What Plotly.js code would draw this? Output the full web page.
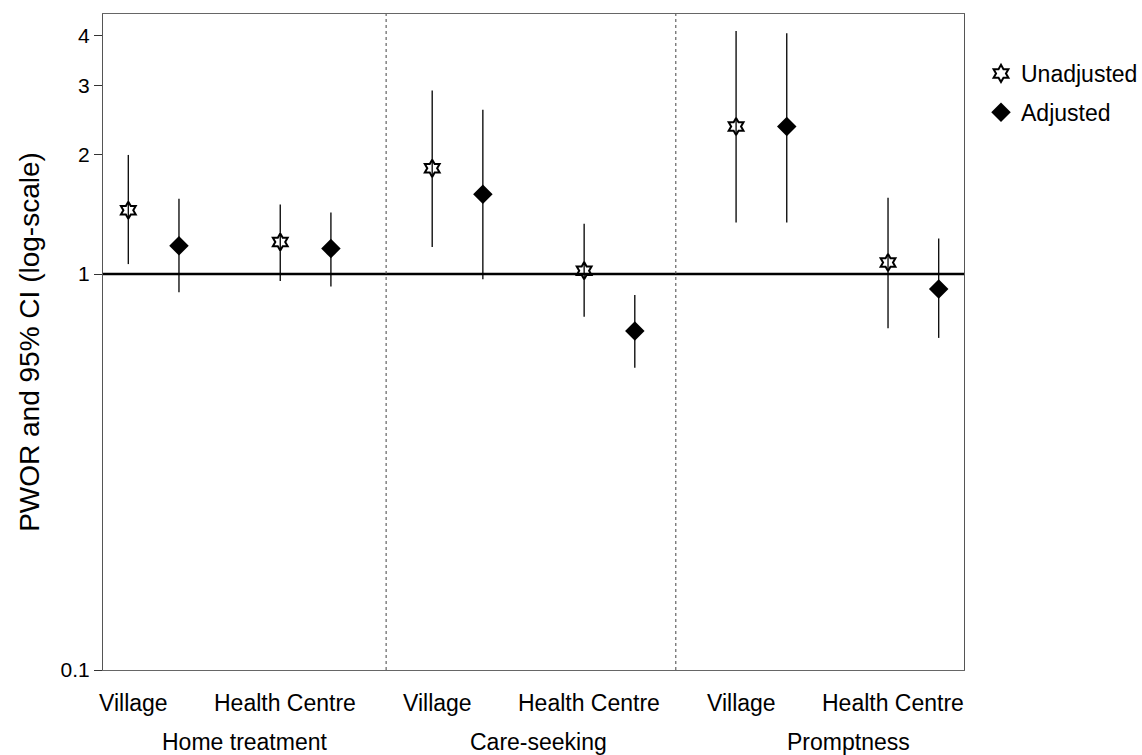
<!DOCTYPE html>
<html>
<head>
<meta charset="utf-8">
<script src="https://cdn.plot.ly/plotly-3.0.1.min.js"></script>
<style>html,body{margin:0;padding:0;background:#fff;}#chart{width:1142px;height:755px;}</style>
</head>
<body>
<div id="chart"></div>
<script>
// Categories
const groupLabels = ['Home treatment', 'Care-seeking', 'Promptness'];
const settingLabels = ['Village', 'Health Centre', 'Village', 'Health Centre', 'Village', 'Health Centre'];

// Unadjusted PWOR and 95% CI (order: Home V, Home HC, Care V, Care HC, Prompt V, Prompt HC)
const unadjEst = [1.45, 1.205, 1.85, 1.02, 2.36, 1.07];
const unadjLow = [1.06, 0.96, 1.17, 0.78, 1.35, 0.73];
const unadjHigh = [2.00, 1.50, 2.91, 1.34, 4.11, 1.56];

// Adjusted PWOR and 95% CI
const adjEst = [1.18, 1.16, 1.59, 0.718, 2.36, 0.917];
const adjLow = [0.90, 0.93, 0.97, 0.58, 1.35, 0.69];
const adjHigh = [1.55, 1.43, 2.60, 0.885, 4.06, 1.23];

// Y ticks
const yTickVals = [0.1, 1, 2, 3, 4];
const yTickText = ['0.1', '1', '2', '3', '4'];

// positions: each setting slot k has unadjusted at 3k, adjusted at 3k+1
const slotPos = settingLabels.map((_, k) => 3 * k);
const xUnadj = slotPos.slice();
const xAdj = slotPos.map(p => p + 1);

const FONT = 'Liberation Sans, Arial, sans-serif';

const errStyle = {type: 'data', symmetric: false, color: '#111', thickness: 1.4, width: 0};

const traces = [
  {
    type: 'scatter', mode: 'markers', name: 'Unadjusted', legendgroup: 'u',
    x: xUnadj, y: unadjEst,
    error_y: Object.assign({}, errStyle, {
      array: unadjEst.map((v, i) => unadjHigh[i] - v),
      arrayminus: unadjEst.map((v, i) => v - unadjLow[i])
    }),
    marker: {symbol: 'hexagram-open', size: 13, color: '#000', line: {color: '#000', width: 2}}
  },
  {
    type: 'scatter', mode: 'markers', name: 'Adjusted', legendgroup: 'a',
    x: xAdj, y: adjEst,
    error_y: Object.assign({}, errStyle, {
      array: adjEst.map((v, i) => adjHigh[i] - v),
      arrayminus: adjEst.map((v, i) => v - adjLow[i])
    }),
    marker: {symbol: 'diamond', size: 15, color: '#000', line: {color: '#000', width: 0}}
  }
];

const annotations = [];
settingLabels.forEach((t, k) => {
  annotations.push({
    x: slotPos[k] + 0.1, y: 0, xref: 'x', yref: 'paper', yshift: -33,
    text: t, showarrow: false, xanchor: 'center', yanchor: 'middle',
    font: {family: FONT, size: 23, color: '#000'}
  });
});
const groupCentres = [2.30, 8.09, 14.21];
groupLabels.forEach((t, g) => {
  annotations.push({
    x: groupCentres[g], y: 0, xref: 'x', yref: 'paper', yshift: -72,
    text: t, showarrow: false, xanchor: 'center', yanchor: 'middle',
    font: {family: FONT, size: 23, color: '#000'}
  });
});

const shapes = [
  {type: 'line', xref: 'paper', x0: 0, x1: 1, yref: 'y', y0: 1, y1: 1, line: {color: '#000', width: 2.5}},
  {type: 'line', xref: 'x', x0: 5.09, x1: 5.09, yref: 'paper', y0: 0, y1: 1, line: {color: '#444', width: 1, dash: 'dot'}},
  {type: 'line', xref: 'x', x0: 10.81, x1: 10.81, yref: 'paper', y0: 0, y1: 1, line: {color: '#444', width: 1, dash: 'dot'}}
];

const layout = {
  width: 1142, height: 755,
  margin: {l: 103, r: 178, t: 14, b: 85, autoexpand: false},
  paper_bgcolor: '#fff', plot_bgcolor: '#fff',
  font: {family: FONT, color: '#000'},
  showlegend: true,
  legend: {
    x: (981 - 103) / 861, y: 1 - (52 - 14) / 656, xanchor: 'left', yanchor: 'top',
    font: {family: FONT, size: 23, color: '#000'}, itemwidth: 30, tracegroupgap: 6,
    traceorder: 'grouped', bgcolor: 'rgba(0,0,0,0)'
  },
  xaxis: {
    range: [-0.5, 16.5], showgrid: false, zeroline: false, showticklabels: false, ticks: '',
    showline: true, mirror: true, linecolor: '#666', linewidth: 1
  },
  yaxis: {
    type: 'log', range: [-1, 0.657], showgrid: false, zeroline: false,
    tickvals: yTickVals, ticktext: yTickText, ticks: 'outside', ticklen: 8, tickcolor: '#333',
    tickfont: {family: FONT, size: 21, color: '#000'},
    showline: true, mirror: true, linecolor: '#555', linewidth: 1,
    title: {text: 'PWOR and 95% CI (log-scale)', font: {family: FONT, size: 28, color: '#000'}, standoff: 12}
  },
  shapes: shapes,
  annotations: annotations
};

Plotly.newPlot('chart', traces, layout, {displayModeBar: false, staticPlot: true});
</script>
</body>
</html>
